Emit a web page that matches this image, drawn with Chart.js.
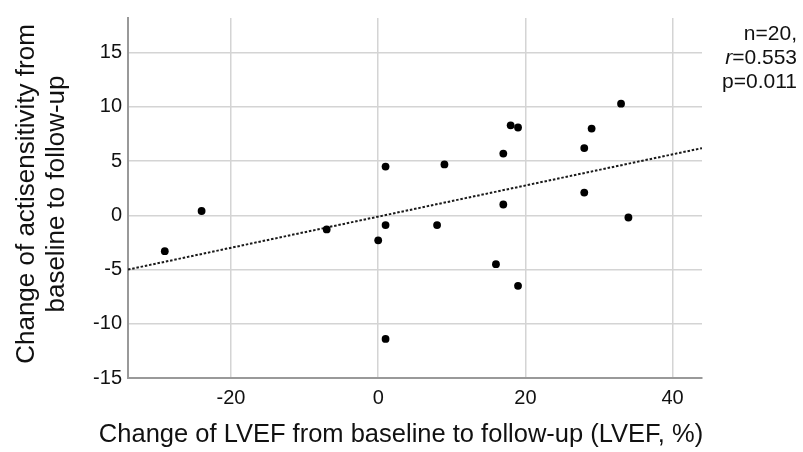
<!DOCTYPE html>
<html>
<head>
<meta charset="utf-8">
<title>LVEF vs actisensitivity</title>
<script src="https://cdn.jsdelivr.net/npm/chart.js@4.4.0/dist/chart.umd.min.js"></script>
<style>
  body { margin: 0; background: #fff; }
  #wrap { width: 803px; height: 452px; }
</style>
</head>
<body>
<div id="wrap"><canvas id="myChart" width="803" height="452"></canvas></div>
<script>
"use strict";

// change of LVEF (x) and change of actisensitivity (y), one entry per patient
const lvefChange = [1, 33, 18, 19, 29, 17, 28, 9, 28, 17, 34, 8, 16, 19, -24, -29, -7, 1, 0, 1];
const actiChange = [4.5, 10.3, 8.3, 8.1, 8.0, 5.7, 6.2, 4.7, 2.1, 1.0, -0.2, -0.9, -4.5, -6.5, 0.4, -3.3, -1.3, -0.9, -2.3, -11.4];

// fit line as drawn, read at the two plot edges
const fitX = [-34, 44];
const fitY = [-5.0, 6.2];

const xTicks = [-20, 0, 20, 40];
const yTicks = [-15, -10, -5, 0, 5, 10, 15];

const xTitle = 'Change of LVEF from baseline to follow-up (LVEF, %)';
const yTitle = ['Change of actisensitivity from', 'baseline to follow-up'];
const statLines = ['n=20,', 'r=0.553', 'p=0.011'];

const FONT = '"Liberation Sans", Arial, Helvetica, sans-serif';

const points = lvefChange.map((x, i) => ({ x: x, y: actiChange[i] }));
const fitLine = fitX.map((x, i) => ({ x: x, y: fitY[i] }));

// titles and the stats note are drawn by hand so they sit where the original has them
const textPlugin = {
  id: 'textPlugin',
  afterDraw(chart) {
    const ctx = chart.ctx;
    ctx.save();
    ctx.fillStyle = '#111';

    ctx.font = '25.5px ' + FONT;
    ctx.textAlign = 'center';
    ctx.textBaseline = 'alphabetic';
    ctx.fillText(xTitle, 401, 442);

    ctx.font = '26px ' + FONT;
    ctx.translate(34, 194);
    ctx.rotate(-Math.PI / 2);
    ctx.fillText(yTitle[0], 0, 0);
    ctx.fillText(yTitle[1], 0, 30);
    ctx.setTransform(1, 0, 0, 1, 0, 0);

    ctx.font = '21px ' + FONT;
    ctx.textAlign = 'right';
    ctx.fillText(statLines[0], 797, 40);
    // r in italics
    const rest = statLines[1].slice(1);
    ctx.fillText(rest, 797, 64);
    const w = ctx.measureText(rest).width;
    ctx.font = 'italic 21px ' + FONT;
    ctx.fillText(statLines[1][0], 797 - w, 64);
    ctx.font = '21px ' + FONT;
    ctx.fillText(statLines[2], 797, 88);
    ctx.restore();
  }
};

const ctx = document.getElementById('myChart').getContext('2d');
const chart = new Chart(ctx, {
  type: 'scatter',
  data: {
    datasets: [
      {
        label: 'patients',
        data: points,
        backgroundColor: '#000',
        borderWidth: 0,
        pointRadius: 3.9,
        pointHoverRadius: 3.9
      },
      {
        label: 'fit',
        type: 'line',
        data: fitLine,
        borderColor: '#1a1a1a',
        borderWidth: 2,
        borderDash: [2.5, 1.8],
        pointRadius: 0,
        fill: false
      }
    ]
  },
  options: {
    responsive: false,
    devicePixelRatio: 1,
    animation: false,
    layout: { padding: { top: 12, right: 101, left: 0, bottom: 0 } },
    plugins: {
      legend: { display: false },
      tooltip: { enabled: false }
    },
    scales: {
      x: {
        type: 'linear',
        min: -34,
        max: 44,
        afterBuildTicks: scale => { scale.ticks = xTicks.map(v => ({ value: v })); },
        afterFit: scale => { scale.height = 74; },
        ticks: { font: { size: 20, family: FONT }, color: '#111', padding: 8 },
        grid: { color: '#d4d4d4', lineWidth: 1.5, drawTicks: false },
        border: { color: '#999', width: 2 }
      },
      y: {
        min: -15,
        max: 18.2,
        afterBuildTicks: scale => { scale.ticks = yTicks.map(v => ({ value: v })); },
        afterFit: scale => { scale.width = 128; },
        ticks: { font: { size: 20, family: FONT }, color: '#111', padding: 6 },
        grid: { color: '#d4d4d4', lineWidth: 1.5, drawTicks: false },
        border: { color: '#999', width: 2 }
      }
    }
  },
  plugins: [textPlugin]
});
</script>
</body>
</html>
